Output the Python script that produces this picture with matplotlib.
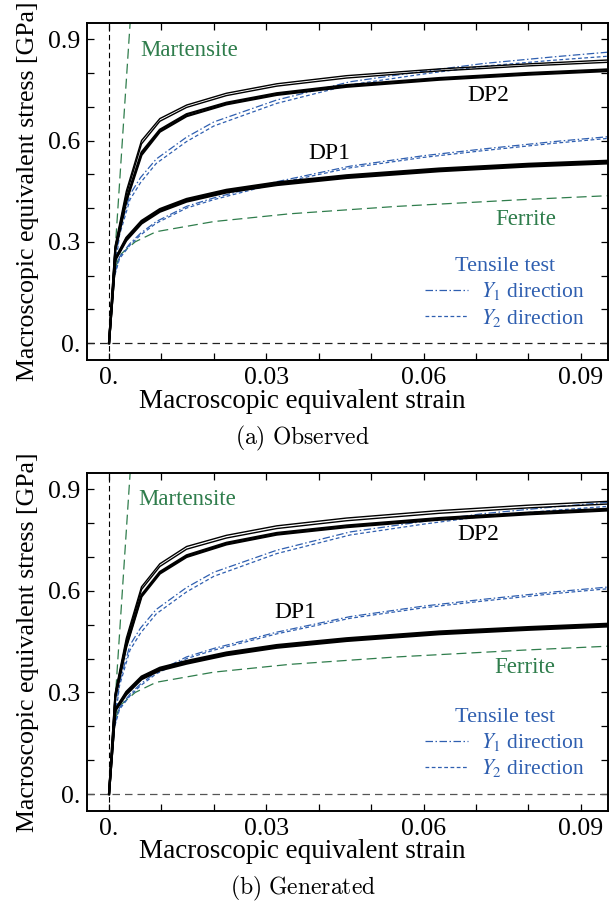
import matplotlib
matplotlib.use("Agg")
import matplotlib.pyplot as plt
from matplotlib.lines import Line2D

plt.rcParams['font.family'] = ['Liberation Serif', 'DejaVu Serif']
plt.rcParams['mathtext.fontset'] = 'stix'

# ---------------- data ----------------
strain_sim = [0, 0.0012, 0.0033, 0.0062, 0.0097, 0.0148, 0.0224, 0.032, 0.0453, 0.063, 0.08, 0.1]

# Observed (a)
dp2_obs_1 = [0, 0.29, 0.45, 0.600, 0.665, 0.705, 0.740, 0.768, 0.792, 0.812, 0.827, 0.842]
dp2_obs_2 = [0, 0.285, 0.44, 0.590, 0.657, 0.698, 0.733, 0.761, 0.785, 0.806, 0.821, 0.835]
dp2_obs_3 = [0, 0.28, 0.425, 0.565, 0.632, 0.678, 0.712, 0.740, 0.764, 0.785, 0.800, 0.814]
dp2_obs_4 = [0, 0.275, 0.42, 0.557, 0.626, 0.672, 0.707, 0.735, 0.759, 0.780, 0.795, 0.809]
dp1_obs_1 = [0, 0.25, 0.312, 0.362, 0.397, 0.427, 0.454, 0.476, 0.497, 0.517, 0.531, 0.543]
dp1_obs_2 = [0, 0.248, 0.308, 0.358, 0.393, 0.423, 0.450, 0.472, 0.493, 0.513, 0.527, 0.539]
dp1_obs_3 = [0, 0.246, 0.304, 0.354, 0.389, 0.419, 0.446, 0.468, 0.489, 0.509, 0.523, 0.535]

# Generated (b)
dp2_gen_1 = [0, 0.30, 0.46, 0.612, 0.680, 0.731, 0.764, 0.792, 0.815, 0.837, 0.853, 0.868]
dp2_gen_2 = [0, 0.295, 0.452, 0.604, 0.672, 0.723, 0.756, 0.784, 0.807, 0.829, 0.845, 0.860]
dp2_gen_3 = [0, 0.29, 0.44, 0.588, 0.656, 0.705, 0.742, 0.771, 0.793, 0.815, 0.831, 0.846]
dp2_gen_4 = [0, 0.285, 0.435, 0.583, 0.651, 0.700, 0.737, 0.766, 0.788, 0.810, 0.826, 0.841]
dp1_gen_1 = [0, 0.25, 0.302, 0.347, 0.373, 0.393, 0.418, 0.440, 0.460, 0.480, 0.493, 0.506]
dp1_gen_2 = [0, 0.248, 0.298, 0.343, 0.369, 0.389, 0.414, 0.436, 0.456, 0.476, 0.489, 0.502]
dp1_gen_3 = [0, 0.246, 0.294, 0.339, 0.365, 0.385, 0.410, 0.432, 0.452, 0.472, 0.485, 0.498]

# Tensile tests (experiment)
strain_exp = [0, 0.001, 0.002, 0.004, 0.006, 0.009, 0.0148, 0.02, 0.032, 0.046, 0.06, 0.0714, 0.085, 0.1]
dp2_y1 = [0, 0.21, 0.33, 0.44, 0.49, 0.545, 0.61, 0.655, 0.72, 0.774, 0.805, 0.828, 0.848, 0.868]
dp2_y2 = [0, 0.20, 0.32, 0.425, 0.475, 0.532, 0.597, 0.643, 0.71, 0.765, 0.797, 0.82, 0.838, 0.855]
dp1_y1 = [0, 0.20, 0.255, 0.295, 0.325, 0.36, 0.405, 0.43, 0.478, 0.524, 0.555, 0.575, 0.597, 0.618]
dp1_y2 = [0, 0.195, 0.25, 0.29, 0.32, 0.355, 0.40, 0.425, 0.473, 0.519, 0.55, 0.57, 0.592, 0.613]

# Single phases
strain_fer = [0, 0.001, 0.002, 0.005, 0.009, 0.02, 0.0345, 0.055, 0.079, 0.1]
ferrite = [0, 0.21, 0.26, 0.30, 0.33, 0.36, 0.383, 0.405, 0.425, 0.44]
strain_mar = [0, 0.0045]
martensite = [0, 1.06]

xticks = [0, 0.03, 0.06, 0.09]
xticklabels = ["0.", "0.03", "0.06", "0.09"]
yticks = [0, 0.3, 0.6, 0.9]
yticklabels = ["0.", "0.3", "0.6", "0.9"]
xminor = [0.01, 0.02, 0.04, 0.05, 0.07, 0.08]
yminor = [0.1, 0.2, 0.4, 0.5, 0.7, 0.8]

GREEN = '#2f7d4c'
BLUE = '#2f5fb0'

W, H = 609, 910
fig = plt.figure(figsize=(W / 100, H / 100), dpi=100)


def make_axes(top, bottom):
    return fig.add_axes([87 / W, 1 - bottom / H, (608 - 87) / W, (bottom - top) / H])


def draw_panel(ax, dp2_set, dp1_set, labels_pos, zero_color):
    ax.set_xlim(-0.0042, 0.0952)
    ax.set_ylim(-0.05, 0.948)
    # reference lines
    ax.axvline(0, color='black', lw=0.8, dashes=(5, 3))
    ax.axhline(0, color=zero_color, lw=0.9, dashes=(6, 4))
    # single phases
    ax.plot(strain_mar, martensite, color=GREEN, lw=0.9, dashes=(8, 4))
    ax.plot(strain_fer, ferrite, color=GREEN, lw=0.9, dashes=(8, 4))
    # experiments
    for ys in (dp2_y1, dp1_y1):
        ax.plot(strain_exp, ys, color=BLUE, lw=0.9, dashes=(6, 2, 1.2, 2))
    for ys in (dp2_y2, dp1_y2):
        ax.plot(strain_exp, ys, color=BLUE, lw=0.9, dashes=(3, 2))
    # simulations
    for i, ys in enumerate(dp2_set):
        ax.plot(strain_sim, ys, color='black', lw=1.0 if i < 2 else 1.6)
    for ys in dp1_set:
        ax.plot(strain_sim, ys, color='black', lw=1.6)

    ax.set_xticks(xticks, labels=xticklabels)
    ax.set_yticks(yticks, labels=yticklabels)
    ax.set_xticks(xminor, minor=True)
    ax.set_yticks(yminor, minor=True)
    ax.tick_params(which='both', direction='in', top=True, right=True,
                   length=5, width=0.9, labelsize=18.5, pad=5)
    for s in ax.spines.values():
        s.set_linewidth(1.4)

    (mx, my), (d2x, d2y), (d1x, d1y), (fx, fy) = labels_pos
    ax.text(mx, my, "Martensite", color=GREEN, fontsize=16.5, ha='center', va='center')
    ax.text(d2x, d2y, "DP2", color='black', fontsize=17, ha='center', va='center')
    ax.text(d1x, d1y, "DP1", color='black', fontsize=17, ha='center', va='center')
    ax.text(fx, fy, "Ferrite", color=GREEN, fontsize=16.5, ha='center', va='center')

    handles = [Line2D([], [], color=BLUE, lw=0.9, dashes=(6, 2, 1.2, 2)),
               Line2D([], [], color=BLUE, lw=0.9, dashes=(3, 2))]
    leg = ax.legend(handles, [r"$Y_1$ direction", r"$Y_2$ direction"],
                    title="Tensile test", loc='upper left', bbox_to_anchor=(0.62, 0.35),
                    frameon=False, fontsize=15.5, title_fontsize=16, handlelength=2.0,
                    handletextpad=0.6, labelspacing=0.2, borderpad=0.2)
    leg.get_title().set_color(BLUE)
    for t in leg.get_texts():
        t.set_color(BLUE)

    ax.set_ylabel("Macroscopic equivalent stress [GPa]", fontsize=18.6, labelpad=6)


ax1 = make_axes(23, 360)
draw_panel(ax1, [dp2_obs_1, dp2_obs_2, dp2_obs_3, dp2_obs_4],
           [dp1_obs_1, dp1_obs_2, dp1_obs_3],
           [(0.0152, 0.867), (0.0723, 0.734), (0.0421, 0.563), (0.0795, 0.366)],
           '#222222')
fig.text(0.497, 1 - 401 / H, "Macroscopic equivalent strain", fontsize=19.5, ha='center', va='center')
fig.text(0.497, 1 - 438 / H, r"$\mathrm{(a)\ Observed}$", math_fontfamily='cm',
         fontsize=17, ha='center', va='center')

ax2 = make_axes(473, 811)
draw_panel(ax2, [dp2_gen_1, dp2_gen_2, dp2_gen_3, dp2_gen_4],
           [dp1_gen_1, dp1_gen_2, dp1_gen_3],
           [(0.015, 0.87), (0.0704, 0.767), (0.0355, 0.537), (0.0794, 0.375)],
           '#555555')
fig.text(0.497, 1 - 852 / H, "Macroscopic equivalent strain", fontsize=19.5, ha='center', va='center')
fig.text(0.497, 1 - 888 / H, r"$\mathrm{(b)\ Generated}$", math_fontfamily='cm',
         fontsize=17, ha='center', va='center')

fig.savefig("out.png", dpi=100)
